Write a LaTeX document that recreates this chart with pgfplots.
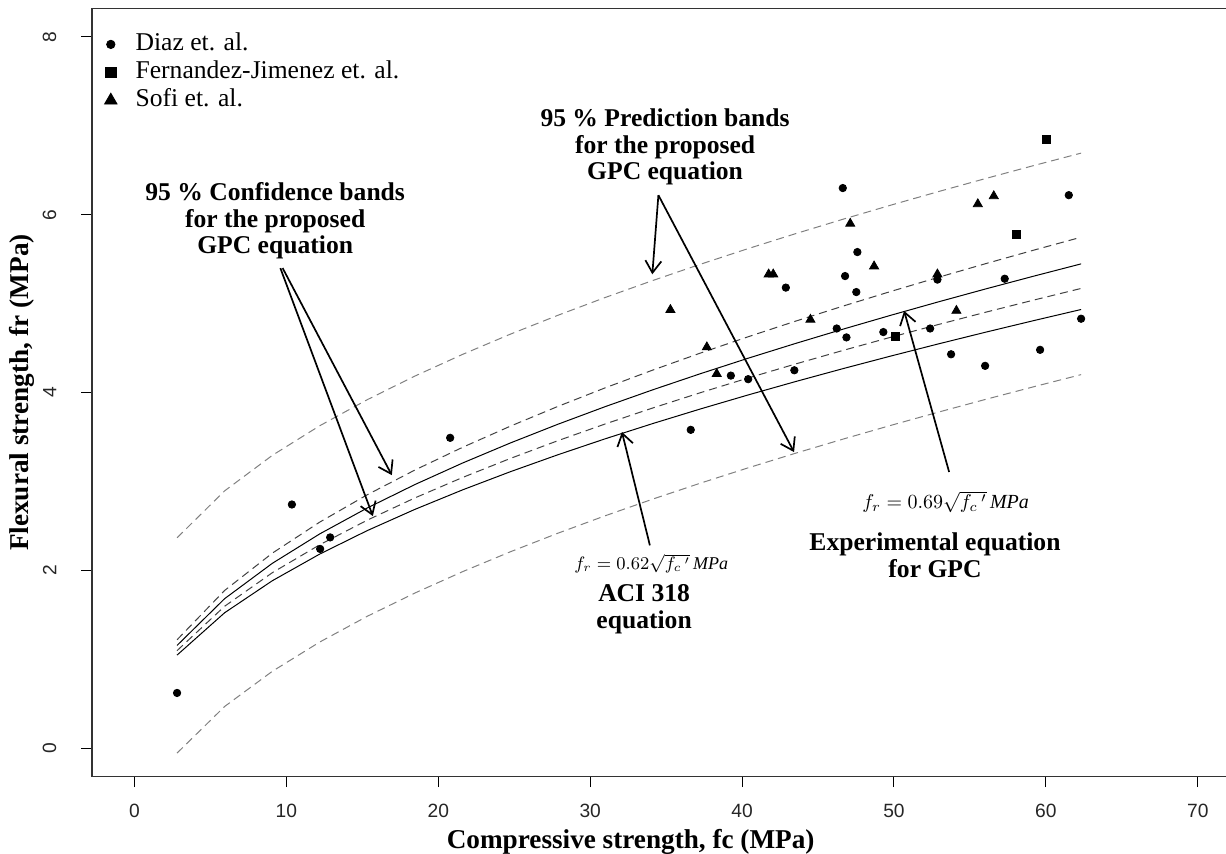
\documentclass[border=0pt]{standalone}
\usepackage{fontspec}
\setmainfont{Liberation Serif}
\newfontfamily\ticksf{Liberation Sans}
\usepackage{pgfplots}
\pgfplotsset{compat=1.18}
\usetikzlibrary{arrows.meta}

\begin{document}
\begin{tikzpicture}
\begin{axis}[
  name=ax, scale only axis, width=567pt, height=384pt,
  xmin=-2.8, xmax=71.86, ymin=-0.32, ymax=8.32,
  xtick={0,10,...,70}, ytick={0,2,4,6,8},
  tick align=outside, major tick length=5.3pt,
  xtick pos=left, ytick pos=left,
  tick style={black, line width=0.5pt},
  axis line style={draw=none},
  /pgf/number format/assume math mode=true,
  ticklabel style={font=\ticksf\fontsize{9.6}{10}\selectfont, text=black!85},
  yticklabel style={rotate=90, anchor=south},
  xticklabel shift=5pt, yticklabel shift=9pt,
  xlabel={\bfseries Compressive strength, fc (MPa)},
  ylabel={\bfseries Flexural strength, fr (MPa)},
  label style={font=\fontsize{13.6}{15}\selectfont},
  xlabel style={at={(axis description cs:0.475,-0.085)}, anchor=center},
  ylabel style={at={(axis description cs:-0.0617,0.5)}, anchor=center},
  clip=false,
  legend style={at={(axis description cs:0.003,0.972)}, anchor=north west,
    draw=none, fill=none, inner sep=0pt, font=\fontsize{12.8}{14}\selectfont,
    nodes={inner sep=1pt, text height=9pt, text depth=3pt}},
  legend cell align=left,
  legend image code/.code={\path (0pt,0pt) (18.5pt,0pt);
    \draw[#1] plot coordinates {(7.3pt,0pt)};},
]
% box without the cropped right side
\draw[line width=0.8pt, black!80] (rel axis cs:1,1) -- (rel axis cs:0,1) -- (rel axis cs:0,0) -- (rel axis cs:1,0);

% prediction bands
\addplot[forget plot, black!50, line width=0.5pt, dash pattern=on 4pt off 2.5pt] coordinates {
(2.80,2.3656)(5.93,2.8932)(9.07,3.2927)(12.20,3.6266)(15.33,3.9200)(18.46,4.1849)
(21.60,4.4290)(24.73,4.6553)(27.86,4.8678)(30.99,5.0689)(34.13,5.2606)(37.26,5.4432)
(40.39,5.6184)(43.52,5.7869)(46.66,5.9502)(49.79,6.1075)(52.92,6.2600)(56.05,6.4081)
(59.19,6.5527)(62.32,6.6931)};
\addplot[forget plot, black!50, line width=0.5pt, dash pattern=on 4pt off 2.5pt] coordinates {
(2.80,-0.0564)(5.93,0.4674)(9.07,0.8633)(12.20,1.1934)(15.33,1.4832)(18.46,1.7443)
(21.60,1.9846)(24.73,2.2073)(27.86,2.4162)(30.99,2.6135)(34.13,2.8014)(37.26,2.9804)
(40.39,3.1520)(43.52,3.3169)(46.66,3.4764)(49.79,3.6301)(52.92,3.7790)(56.05,3.9235)
(59.19,4.0643)(62.32,4.2011)};
% confidence bands
\addplot[forget plot, black!75, line width=0.5pt, dash pattern=on 4pt off 2.5pt] coordinates {
(2.80,1.2182)(5.93,1.7728)(9.07,2.1924)(12.20,2.5428)(15.33,2.8504)(18.46,3.1279)
(21.60,3.3835)(24.73,3.6203)(27.86,3.8426)(30.99,4.0527)(34.13,4.2530)(37.26,4.4438)
(40.39,4.6267)(43.52,4.8026)(46.66,4.9728)(49.79,5.1369)(52.92,5.2959)(56.05,5.4503)
(59.19,5.6009)(62.32,5.7471)};
\addplot[forget plot, black!75, line width=0.5pt, dash pattern=on 4pt off 2.5pt] coordinates {
(2.80,1.0960)(5.93,1.5951)(9.07,1.9726)(12.20,2.2878)(15.33,2.5646)(18.46,2.8142)
(21.60,3.0442)(24.73,3.2572)(27.86,3.4573)(30.99,3.6463)(34.13,3.8266)(37.26,3.9982)
(40.39,4.1627)(43.52,4.3210)(46.66,4.4742)(49.79,4.6218)(52.92,4.7649)(56.05,4.9038)
(59.19,5.0392)(62.32,5.1708)};
% experimental GPC equation
\addplot[forget plot, black, line width=0.5pt] coordinates {
(2.80,1.1546)(5.93,1.6803)(9.07,2.0780)(12.20,2.4100)(15.33,2.7016)(18.46,2.9646)
(21.60,3.2068)(24.73,3.4313)(27.86,3.6420)(30.99,3.8412)(34.13,4.0310)(37.26,4.2118)
(40.39,4.3852)(43.52,4.5519)(46.66,4.7133)(49.79,4.8688)(52.92,5.0195)(56.05,5.1658)
(59.19,5.3085)(62.32,5.4471)};
% ACI 318
\addplot[forget plot, black, line width=0.5pt] coordinates {
(2.80,1.0458)(5.93,1.5220)(9.07,1.8823)(12.20,2.1830)(15.33,2.4471)(18.46,2.6853)
(21.60,2.9048)(24.73,3.1081)(27.86,3.2989)(30.99,3.4793)(34.13,3.6513)(37.26,3.8151)
(40.39,3.9721)(43.52,4.1231)(46.66,4.2693)(49.79,4.4101)(52.92,4.5466)(56.05,4.6792)
(59.19,4.8084)(62.32,4.9339)};

% data
\addplot[only marks, mark=*, mark size=1.85pt, black,
  legend image post style={mark size=2.1pt}] coordinates {
(2.80,0.62)(10.36,2.74)(12.88,2.37)(12.22,2.24)(20.78,3.49)(36.62,3.58)(39.26,4.19)
(40.40,4.15)(43.44,4.25)(42.88,5.18)(46.63,6.30)(47.59,5.58)(46.78,5.31)(47.52,5.13)
(46.23,4.72)(46.87,4.62)(49.30,4.68)(52.38,4.72)(52.86,5.27)(57.29,5.28)(53.76,4.43)
(56.00,4.30)(59.62,4.48)(61.51,6.22)(62.32,4.83)};
\addlegendentry{Diaz et. al.}
\addplot[only marks, mark=square*, mark size=2pt, black,
  legend image post style={mark size=2.6pt}] coordinates {
(60.03,6.85)(58.04,5.78)(50.07,4.63)};
\addlegendentry{Fernandez-Jimenez et. al.}
\addplot[only marks, mark=triangle*, mark size=2.6pt, black,
  legend image post style={mark size=3.6pt}] coordinates {
(47.12,5.90)(48.69,5.42)(41.75,5.33)(42.05,5.33)(35.28,4.93)(44.50,4.82)(37.68,4.51)
(38.33,4.21)(52.86,5.33)(54.11,4.92)(55.52,6.12)(56.57,6.21)};
\addlegendentry{Sofi et. al.}

% annotations
\tikzset{lbl/.style={align=center, font=\bfseries\fontsize{12.8}{13.2}\selectfont},
  arr/.style={line width=0.85pt, -{Straight Barb[length=6pt,width=8pt]}}}
\node[lbl] at (axis cs:9.26,5.93) {95 \% Confidence bands\\for the proposed\\GPC equation};
\draw[arr] (axis cs:9.75,5.40) -- (axis cs:16.94,3.07);
\draw[arr] (axis cs:9.60,5.40) -- (axis cs:15.69,2.61);
\node[lbl] at (axis cs:34.93,6.76) {95 \% Prediction bands\\for the proposed\\GPC equation};
\draw[arr] (axis cs:34.49,6.22) -- (axis cs:34.09,5.33);
\draw[arr] (axis cs:34.49,6.22) -- (axis cs:43.42,3.33);
\node[font=\fontsize{9}{10}\selectfont] at (axis cs:34.02,2.075) {$f_r = 0.62\sqrt{f_c\,'}\,\mathit{MPa}$};
\node[lbl] at (axis cs:33.55,1.56) {ACI 318\\equation};
\draw[arr] (axis cs:33.93,2.28) -- (axis cs:32.09,3.556);
\node[font=\fontsize{10}{11}\selectfont] at (axis cs:53.4,2.77) {$f_r = 0.69\sqrt{f_c\,'}\,\mathit{MPa}$};
\node[lbl] at (axis cs:52.7,2.17) {Experimental equation\\for GPC};
\draw[arr] (axis cs:53.63,3.106) -- (axis cs:50.67,4.918);
\end{axis}
\pgfresetboundingbox
\path (ax.south west) ++(-46pt,-38.25pt) coordinate (bl);
\path (ax.north east) ++(0pt,4.25pt) coordinate (tr);
\path (bl) rectangle (tr);
\end{tikzpicture}
\end{document}
